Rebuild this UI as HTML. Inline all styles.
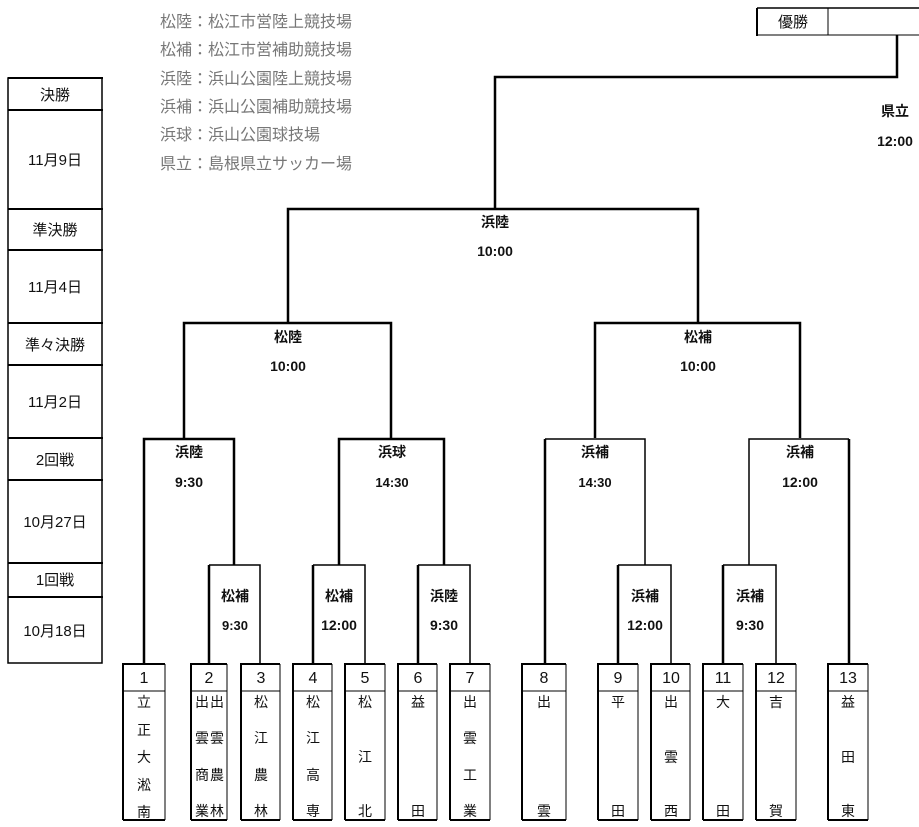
<!DOCTYPE html>
<html><head><meta charset="utf-8"><style>
html,body{margin:0;padding:0;background:#fff;}
svg{display:block;}
text{font-family:"Liberation Sans","Noto Sans CJK JP",sans-serif;fill:#111;}
.g{fill:#777;font-size:16px;}
.l{font-size:14px;text-anchor:middle;font-weight:bold;}
.c{font-size:14px;text-anchor:middle;}
.s{font-size:15px;text-anchor:middle;}
.n{font-size:16px;text-anchor:middle;}
</style></head><body>
<svg width="919" height="827" viewBox="0 0 919 827" xmlns="http://www.w3.org/2000/svg">
<text class="g" x="160" y="27">松陸：松江市営陸上競技場</text>
<text class="g" x="160" y="55">松補：松江市営補助競技場</text>
<text class="g" x="160" y="84">浜陸：浜山公園陸上競技場</text>
<text class="g" x="160" y="112">浜補：浜山公園補助競技場</text>
<text class="g" x="160" y="140">浜球：浜山公園球技場</text>
<text class="g" x="160" y="169">県立：島根県立サッカー場</text>

<g stroke="#000" fill="none">
<rect x="8" y="78" width="94" height="585" stroke-width="1.5"/>
<g stroke-width="2">
<line x1="8" y1="78" x2="103" y2="78"/>
<line x1="8" y1="110" x2="103" y2="110"/>
<line x1="8" y1="209" x2="103" y2="209"/>
<line x1="8" y1="250" x2="103" y2="250"/>
<line x1="8" y1="323" x2="103" y2="323"/>
<line x1="8" y1="365" x2="103" y2="365"/>
<line x1="8" y1="438" x2="103" y2="438"/>
<line x1="8" y1="480" x2="103" y2="480"/>
<line x1="8" y1="563" x2="103" y2="563"/>
<line x1="8" y1="597" x2="103" y2="597"/>
</g></g>
<text class="s" x="55" y="100">決勝</text>
<text class="s" x="55" y="165">11月9日</text>
<text class="s" x="55" y="235">準決勝</text>
<text class="s" x="55" y="292">11月4日</text>
<text class="s" x="55" y="350">準々決勝</text>
<text class="s" x="55" y="407">11月2日</text>
<text class="s" x="55" y="465">2回戦</text>
<text class="s" x="55" y="527">10月27日</text>
<text class="s" x="55" y="585">1回戦</text>
<text class="s" x="55" y="636">10月18日</text>

<g stroke="#000" fill="none">
<line x1="757" y1="8" x2="919" y2="8" stroke-width="1.5"/>
<line x1="757" y1="35" x2="919" y2="35" stroke-width="1"/>
<line x1="757" y1="8" x2="757" y2="36" stroke-width="2"/>
<line x1="828" y1="8" x2="828" y2="35" stroke-width="1"/>
</g>
<text class="s" x="793" y="27">優勝</text>

<g stroke="#000" stroke-width="2.5" fill="none">
<polyline points="897,35 897,77 495,77 495,209"/>
<polyline points="288,323 288,209 698,209 698,323"/>
<polyline points="184,438 184,323 391,323 391,438"/>
<polyline points="595,438 595,323 800,323 800,438"/>
<polyline points="144,663 144,439 234,439 234,565"/>
<polyline points="339,565 339,439 444,439 444,565"/>
<polyline points="545,663 545,439"/>
<polyline points="849,663 849,439"/>
<polyline points="209,663 209,565"/>
<polyline points="313,663 313,565"/>
<polyline points="418,663 418,565"/>
<polyline points="618,663 618,565"/>
<polyline points="723,663 723,565"/>
</g>
<g stroke="#000" stroke-width="1.5" fill="none">
<polyline points="545,439 645,439 645,565"/>
<polyline points="749,565 749,439 849,439"/>
<polyline points="209,565 260,565 260,663"/>
<polyline points="313,565 365,565 365,663"/>
<polyline points="418,565 470,565 470,663"/>
<polyline points="618,565 671,565 671,663"/>
<polyline points="723,565 776,565 776,663"/>
</g>

<text class="l" x="895" y="116">県立</text><text class="l" x="895" y="146">12:00</text>
<text class="l" x="495" y="227">浜陸</text><text class="l" x="495" y="256">10:00</text>
<text class="l" x="288" y="342">松陸</text><text class="l" x="288" y="371">10:00</text>
<text class="l" x="698" y="342">松補</text><text class="l" x="698" y="371">10:00</text>
<text class="l" x="189" y="457">浜陸</text><text class="l" x="189" y="487">9:30</text>
<text class="l" x="392" y="457">浜球</text><text class="l" x="392" y="487" style="font-size:13px">14:30</text>
<text class="l" x="595" y="457">浜補</text><text class="l" x="595" y="487" style="font-size:13px">14:30</text>
<text class="l" x="800" y="457">浜補</text><text class="l" x="800" y="487">12:00</text>
<text class="l" x="235" y="601">松補</text><text class="l" x="235" y="630" style="font-size:13px">9:30</text>
<text class="l" x="339" y="601">松補</text><text class="l" x="339" y="630">12:00</text>
<text class="l" x="444" y="601">浜陸</text><text class="l" x="444" y="630">9:30</text>
<text class="l" x="645" y="601">浜補</text><text class="l" x="645" y="630">12:00</text>
<text class="l" x="750" y="601">浜補</text><text class="l" x="750" y="630">9:30</text>

<g stroke="#000" fill="none">
<g stroke-width="2">
<path d="M123,820 V664 H165 M123,820 H165"/>
<path d="M191,820 V664 H227 M191,820 H227"/>
<path d="M241,820 V664 H280 M241,820 H280"/>
<path d="M293,820 V664 H332 M293,820 H332"/>
<path d="M345,820 V664 H385 M345,820 H385"/>
<path d="M398,820 V664 H437 M398,820 H437"/>
<path d="M450,820 V664 H490 M450,820 H490"/>
<path d="M522,820 V664 H566 M522,820 H566"/>
<path d="M598,820 V664 H638 M598,820 H638"/>
<path d="M651,820 V664 H690 M651,820 H690"/>
<path d="M703,820 V664 H743 M703,820 H743"/>
<path d="M756,820 V664 H796 M756,820 H796"/>
<path d="M828,820 V664 H868 M828,820 H868"/>
</g>
<g stroke-width="1">
<path d="M165,664V820M123,691H165"/>
<path d="M227,664V820M191,691H227"/>
<path d="M280,664V820M241,691H280"/>
<path d="M332,664V820M293,691H332"/>
<path d="M385,664V820M345,691H385"/>
<path d="M437,664V820M398,691H437"/>
<path d="M490,664V820M450,691H490"/>
<path d="M566,664V820M522,691H566"/>
<path d="M638,664V820M598,691H638"/>
<path d="M690,664V820M651,691H690"/>
<path d="M743,664V820M703,691H743"/>
<path d="M796,664V820M756,691H796"/>
<path d="M868,664V820M828,691H868"/>
</g></g>
<text class="n" x="144" y="683">1</text><text class="n" x="209" y="683">2</text>
<text class="n" x="261" y="683">3</text><text class="n" x="313" y="683">4</text>
<text class="n" x="365" y="683">5</text><text class="n" x="418" y="683">6</text>
<text class="n" x="470" y="683">7</text><text class="n" x="544" y="683">8</text>
<text class="n" x="618" y="683">9</text><text class="n" x="671" y="683">10</text>
<text class="n" x="723" y="683">11</text><text class="n" x="776" y="683">12</text>
<text class="n" x="848" y="683">13</text>
<text class="c" x="144" y="707">立</text><text class="c" x="144" y="735">正</text><text class="c" x="144" y="762">大</text><text class="c" x="144" y="790">淞</text><text class="c" x="144" y="817">南</text>
<text class="c" x="202" y="707">出</text><text class="c" x="202" y="743">雲</text><text class="c" x="202" y="780">商</text><text class="c" x="202" y="816">業</text>
<text class="c" x="217" y="707">出</text><text class="c" x="217" y="743">雲</text><text class="c" x="217" y="780">農</text><text class="c" x="217" y="816">林</text>
<text class="c" x="261" y="707">松</text><text class="c" x="261" y="743">江</text><text class="c" x="261" y="780">農</text><text class="c" x="261" y="816">林</text>
<text class="c" x="313" y="707">松</text><text class="c" x="313" y="743">江</text><text class="c" x="313" y="780">高</text><text class="c" x="313" y="816">専</text>
<text class="c" x="365" y="707">松</text><text class="c" x="365" y="762">江</text><text class="c" x="365" y="816">北</text>
<text class="c" x="418" y="707">益</text><text class="c" x="418" y="816">田</text>
<text class="c" x="470" y="707">出</text><text class="c" x="470" y="743">雲</text><text class="c" x="470" y="780">工</text><text class="c" x="470" y="816">業</text>
<text class="c" x="544" y="707">出</text><text class="c" x="544" y="816">雲</text>
<text class="c" x="618" y="707">平</text><text class="c" x="618" y="816">田</text>
<text class="c" x="671" y="707">出</text><text class="c" x="671" y="762">雲</text><text class="c" x="671" y="816">西</text>
<text class="c" x="723" y="707">大</text><text class="c" x="723" y="816">田</text>
<text class="c" x="776" y="707">吉</text><text class="c" x="776" y="816">賀</text>
<text class="c" x="848" y="707">益</text><text class="c" x="848" y="762">田</text><text class="c" x="848" y="816">東</text>
</svg>
</body></html>
